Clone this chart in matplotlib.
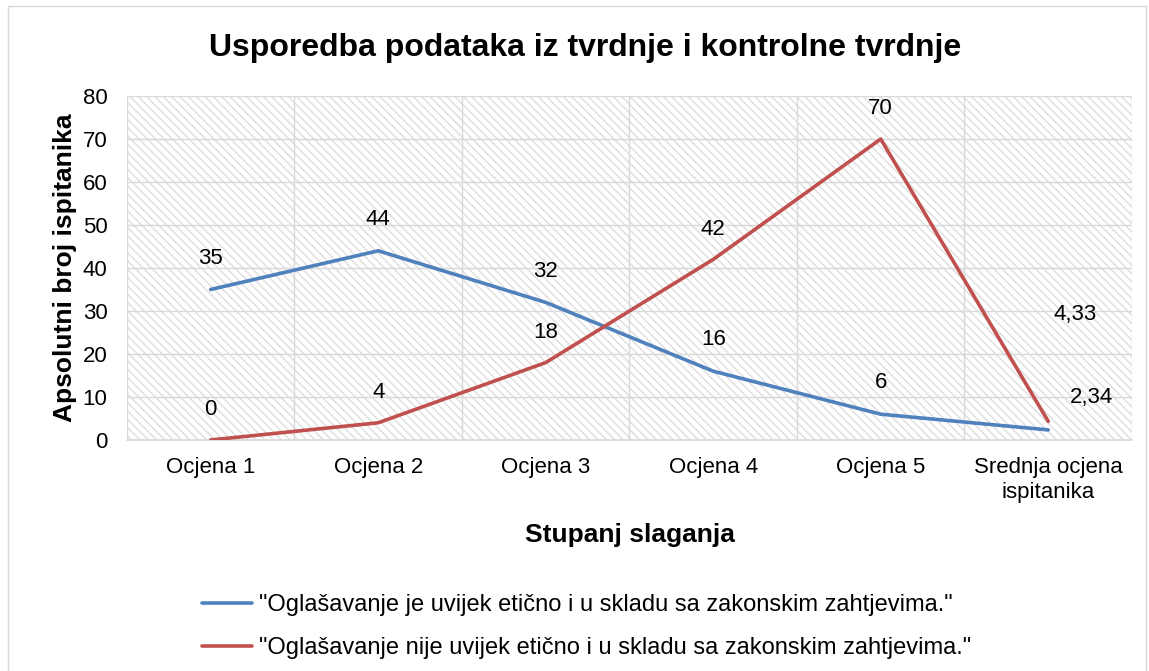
import matplotlib
matplotlib.use('Agg')
import matplotlib.pyplot as plt
from matplotlib.patches import Rectangle

plt.rcParams['font.family'] = ['Liberation Sans', 'DejaVu Sans']
plt.rcParams['hatch.color'] = '#dedede'
plt.rcParams['hatch.linewidth'] = 1.0

# data
categories = ['Ocjena 1', 'Ocjena 2', 'Ocjena 3', 'Ocjena 4', 'Ocjena 5',
              'Srednja ocjena\nispitanika']
blue_values = [35, 44, 32, 16, 6, 2.34]
red_values = [0, 4, 18, 42, 70, 4.33]
blue_labels = ['35', '44', '32', '16', '6', '2,34']
red_labels = ['0', '4', '18', '42', '70', '4,33']
blue_name = '"Oglašavanje je uvijek etično i u skladu sa zakonskim zahtjevima."'
red_name = '"Oglašavanje nije uvijek etično i u skladu sa zakonskim zahtjevima."'

blue = '#4f81bd'
red = '#c0504d'

fig = plt.figure(figsize=(11.49, 6.71), dpi=100)
fig.patches.append(Rectangle((0.007, -0.01), 0.99, 1.001, transform=fig.transFigure,
                             fill=False, edgecolor='#d9d9d9', linewidth=1))
ax = fig.add_axes([0.1105, 0.3443, 0.8747, 0.5126])

# hatched background
ax.add_patch(Rectangle((0, 0), 1, 1, transform=ax.transAxes, facecolor='white',
                       edgecolor='#dedede', hatch='\\' * 4, linewidth=0, zorder=0))

x = list(range(len(categories)))
ax.plot(x, blue_values, color=blue, linewidth=2.6, label=blue_name, zorder=3,
        solid_capstyle='round')
ax.plot(x, red_values, color=red, linewidth=2.6, label=red_name, zorder=3,
        solid_capstyle='round')

# data labels
fs = 16
for i in range(len(x) - 1):
    ax.text(x[i], blue_values[i] + 7.3, blue_labels[i], ha='center', va='center', fontsize=fs)
    ax.text(x[i], red_values[i] + 7, red_labels[i], ha='center', va='center', fontsize=fs)
ax.text(x[-1] + 0.26, 9.8, blue_labels[-1], ha='center', va='center', fontsize=fs)
ax.text(x[-1] + 0.16, 29.2, red_labels[-1], ha='center', va='center', fontsize=fs)

ax.set_xlim(-0.5, 5.5)
ax.set_ylim(0, 80)
ax.set_yticks(range(0, 81, 10))
ax.set_xticks(x)
ax.set_xticklabels(categories, fontsize=fs, linespacing=1.3)
ax.set_xticks([i - 0.5 for i in range(len(categories) + 1)], minor=True)
ax.tick_params(axis='y', labelsize=fs, length=0, pad=14)
ax.tick_params(axis='x', which='both', length=0, pad=12)
ax.grid(axis='y', color='#d9d9d9', linewidth=1)
ax.grid(axis='x', which='minor', color='#d9d9d9', linewidth=1)
ax.set_axisbelow(True)
for s in ['top', 'right', 'left']:
    ax.spines[s].set_visible(False)
ax.spines['bottom'].set_color('#d9d9d9')
ax.spines['bottom'].set_linewidth(1.2)

fig.text(0.509, 0.928, 'Usporedba podataka iz tvrdnje i kontrolne tvrdnje', fontsize=23,
         fontweight='bold', ha='center', va='center')
ax.set_xlabel('Stupanj slaganja', fontsize=19, fontweight='bold', labelpad=14)
ax.set_ylabel('Apsolutni broj ispitanika', fontsize=19, fontweight='bold', labelpad=4)

fig.legend(loc='center', bbox_to_anchor=(0.5107, 0.066), ncol=1, frameon=False,
           fontsize=17, handlelength=2.1, handletextpad=0.3, labelspacing=0.9)

fig.savefig('out.png', dpi=100)
